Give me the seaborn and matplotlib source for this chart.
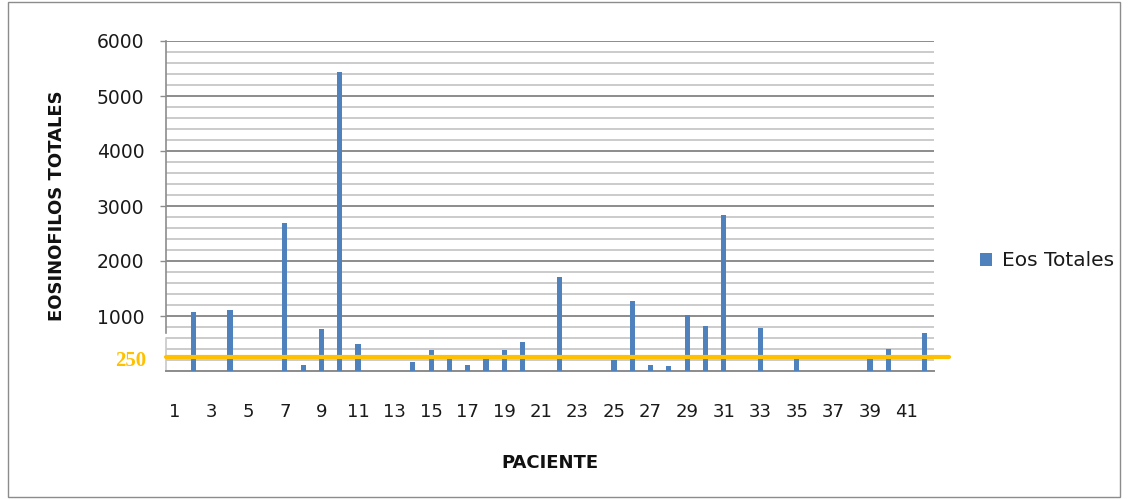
import matplotlib
matplotlib.use("Agg")
import matplotlib.pyplot as plt
import matplotlib.transforms as mtransforms
from matplotlib.patches import Rectangle
from matplotlib.ticker import MultipleLocator
import seaborn as sns
import pandas as pd

# Eosinófilos totales por paciente
pacientes = [str(i) for i in range(1, 43)]
eos_totales = [0, 1065, 0, 1115, 0, 0, 2700, 105, 760, 5430,
               490, 0, 0, 160, 385, 240, 105, 220, 385, 535,
               0, 1715, 0, 0, 195, 1270, 105, 85, 1025, 825,
               2830, 0, 780, 0, 240, 0, 0, 0, 240, 395,
               0, 690]
umbral = 250
serie = "Eos Totales"

df = pd.DataFrame({"Paciente": pacientes, "Eos": eos_totales})

sns.set_theme(style="white")
plt.rcParams["font.family"] = ["DejaVu Sans"]

W, H = 1128, 499
fig = plt.figure(figsize=(W / 100, H / 100), dpi=100)
ax = fig.add_axes([166 / W, 1 - 371 / H, (934 - 166) / W, (371 - 41) / H])

sns.barplot(data=df, x="Paciente", y="Eos", order=pacientes, color="#4F81BD",
            saturation=1, width=0.28, linewidth=0, label=serie, ax=ax, zorder=3)

ax.set_xlim(-0.5, len(pacientes) - 0.5)
ax.set_ylim(0, 6000)

# gridlines: major every 1000, minor every 200
ax.yaxis.set_major_locator(MultipleLocator(1000))
ax.yaxis.set_minor_locator(MultipleLocator(200))
ax.grid(axis="y", which="major", color="#8c8c8c", lw=1.4, zorder=0)
ax.grid(axis="y", which="minor", color="#cbcbcb", lw=1.4, zorder=0)
ax.grid(axis="x", visible=False)
ax.set_axisbelow(True)

ax.set_yticks([1000, 2000, 3000, 4000, 5000, 6000])
ax.set_yticklabels(["1000", "2000", "3000", "4000", "5000", "6000"])
ax.tick_params(axis="y", which="major", left=True, length=4.5, width=1,
               color="#8c8c8c", pad=11, labelsize=13.5, labelcolor="#1a1a1a")
ax.tick_params(axis="y", which="minor", length=0)

xt = list(range(0, len(pacientes), 2))
ax.set_xticks(xt)
ax.set_xticklabels([pacientes[i] for i in xt])
ax.tick_params(axis="x", length=0, pad=23, labelsize=13, labelcolor="#1a1a1a")

for s in ["top", "right"]:
    ax.spines[s].set_visible(False)
ax.spines["bottom"].set_color("#8c8c8c")
ax.spines["bottom"].set_linewidth(1.4)
ax.spines["left"].set_color("#8c8c8c")
ax.spines["left"].set_linewidth(1.2)
ax.spines["left"].set_bounds(700, 6000)
ax.plot([-0.5, -0.5], [0, 600], color="#c8c8c8", lw=1.2, clip_on=False, zorder=2)

ax.set_xlabel("PACIENTE", fontsize=13, fontweight="bold", color="#111111", labelpad=24)
ax.set_ylabel("EOSINOFILOS TOTALES", fontsize=13, fontweight="bold", color="#111111",
              labelpad=22)

# reference threshold line
ax.axhline(umbral, xmin=0, xmax=(949 - 166) / (934 - 166), color="#FFC000", lw=3,
           clip_on=False, zorder=4)
trans = mtransforms.blended_transform_factory(fig.transFigure, ax.transData)
ax.text(146 / W, umbral - 60, str(umbral), transform=trans, ha="right", va="center",
        fontsize=15, fontweight="bold", color="#FFC000", family=["Liberation Serif"])

leg = ax.legend(loc="center left", bbox_to_anchor=(962 / W, 1 - 261 / H),
                bbox_transform=fig.transFigure, frameon=False, fontsize=14.5,
                handlelength=0.6, handleheight=0.6, handletextpad=0.5)
for t in leg.get_texts():
    t.set_color("#1a1a1a")

fig.patches.append(Rectangle((8 / W, 2 / H), (1120 - 8) / W, (497 - 2) / H,
                             transform=fig.transFigure, fill=False,
                             edgecolor="#8c8c8c", lw=1))

fig.savefig("out.png", dpi=100, facecolor="white")
